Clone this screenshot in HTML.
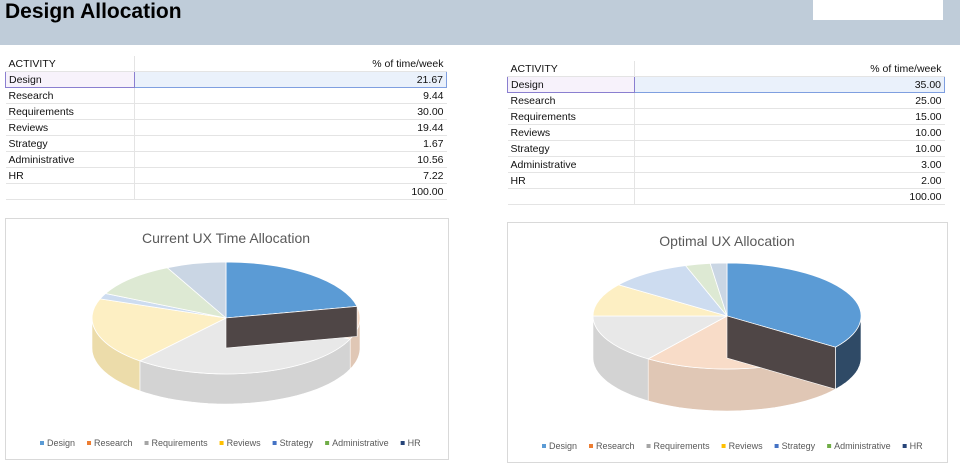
<!DOCTYPE html>
<html><head><meta charset="utf-8"><style>
body{margin:0;width:960px;height:475px;overflow:hidden;background:#fff;font-family:"Liberation Sans",sans-serif;position:relative}
.hdr{position:absolute;left:0;top:0;width:960px;height:45px;background:#bfccd9}
.hdr h1{margin:0;position:absolute;left:5px;top:0;font-size:21px;font-weight:bold;color:#000}
.wbox{position:absolute;left:813px;top:0;width:130px;height:20px;background:#fff}
table{position:absolute;border-collapse:collapse;font-size:10.5px;color:#111}
td{height:15px;padding:0 3px;border-bottom:1px solid #e4e4e4;white-space:nowrap}
td.n{text-align:right}
td.a{border-right:1px solid #e4e4e4}
tr.sel td.a{border:1px solid #8a7fd0;background:#f7f2fb}
tr.sel td.n{border:1px solid #7f9fe0;background:#eaf1fb}
.chart{position:absolute;border:1px solid #d9d9d9;background:#fff}
svg{position:absolute;left:0;top:0}
</style></head><body>
<div class="hdr"><h1>Design Allocation</h1></div>
<div class="wbox"></div>

<table style="left:5px;top:56px;width:442px">
<tr><td class="a" style="width:122px">ACTIVITY</td><td class="n">% of time/week</td></tr>
<tr class="sel"><td class="a">Design</td><td class="n">21.67</td></tr>
<tr><td class="a">Research</td><td class="n">9.44</td></tr>
<tr><td class="a">Requirements</td><td class="n">30.00</td></tr>
<tr><td class="a">Reviews</td><td class="n">19.44</td></tr>
<tr><td class="a">Strategy</td><td class="n">1.67</td></tr>
<tr><td class="a">Administrative</td><td class="n">10.56</td></tr>
<tr><td class="a">HR</td><td class="n">7.22</td></tr>
<tr><td class="a"></td><td class="n">100.00</td></tr>
</table>
<table style="left:507px;top:61px;width:438px">
<tr><td class="a" style="width:120px">ACTIVITY</td><td class="n">% of time/week</td></tr>
<tr class="sel"><td class="a">Design</td><td class="n">35.00</td></tr>
<tr><td class="a">Research</td><td class="n">25.00</td></tr>
<tr><td class="a">Requirements</td><td class="n">15.00</td></tr>
<tr><td class="a">Reviews</td><td class="n">10.00</td></tr>
<tr><td class="a">Strategy</td><td class="n">10.00</td></tr>
<tr><td class="a">Administrative</td><td class="n">3.00</td></tr>
<tr><td class="a">HR</td><td class="n">2.00</td></tr>
<tr><td class="a"></td><td class="n">100.00</td></tr>
</table>

<div class="chart" style="left:5px;top:218px;width:442px;height:240px"></div>
<div class="chart" style="left:507px;top:222px;width:439px;height:239px"></div>
<svg id="sv" width="960" height="475"></svg>

<script>
const categories=["Design","Research","Requirements","Reviews","Strategy","Administrative","HR"];
const currentValues=[21.67,9.44,30.00,19.44,1.67,10.56,7.22];
const optimalValues=[35,25,15,10,10,3,2];
const topColors=["#5b9bd5","#f8dcc8","#e8e8e8","#fdefc3","#cddcf0","#dde9d3","#cad6e4"];
const sideColors=["#2f4a66","#e0c7b5","#d3d3d3","#ecdcaa","#aebbd0","#c3d2b8","#aab6c6"];
const legendColors=["#5b9bd5","#ed7d31","#a5a5a5","#ffc000","#4472c4","#70ad47","#264478"];
const NS="http://www.w3.org/2000/svg";
const sv=document.getElementById('sv');
function mk(t,a){const e=document.createElementNS(NS,t);for(const k in a)e.setAttribute(k,a[k]);return e;}
function pie(vals,cx,cy,rx,ry,dep,title,ty,legX,legY,prefix){
  const tot=vals.reduce((a,b)=>a+b,0);
  const pt=(th,dy)=>[cx+rx*Math.sin(th),cy-ry*Math.cos(th)+(dy||0)];
  let a=0;const angs=vals.map(v=>{const s=a;a+=v/tot*2*Math.PI;return [s,a];});
  angs.forEach(([s,e],i)=>{
    const s2=Math.max(s,Math.PI/2),e2=Math.min(e,3*Math.PI/2);
    if(e2<=s2)return;
    let d="";const N=30;
    for(let k=0;k<=N;k++){const p=pt(s2+(e2-s2)*k/N);d+=(k?"L":"M")+p[0].toFixed(1)+","+p[1].toFixed(1);}
    for(let k=N;k>=0;k--){const p=pt(s2+(e2-s2)*k/N,dep);d+="L"+p[0].toFixed(1)+","+p[1].toFixed(1);}
    const p=mk('path',{d:d+"Z",fill:sideColors[i],stroke:"#fff","stroke-width":0.6});
    
    
    sv.appendChild(p);
  });
  angs.forEach(([s,e],i)=>{
    const p0=pt(s),p1=pt(e);const large=(e-s)>Math.PI?1:0;
    const d=`M${cx},${cy}L${p0[0].toFixed(1)},${p0[1].toFixed(1)}A${rx},${ry} 0 ${large} 1 ${p1[0].toFixed(1)},${p1[1].toFixed(1)}Z`;
    const p=mk('path',{d:d,fill:topColors[i],stroke:"#fff","stroke-width":0.8});
    
    
    sv.appendChild(p);
  });
  // dark inner wall at the end of the first (selected) slice
  const e0=angs[0][1],q=pt(e0),q2=pt(e0,dep);
  const w=mk('path',{d:`M${cx},${cy}L${q[0].toFixed(1)},${q[1].toFixed(1)}L${q2[0].toFixed(1)},${q2[1].toFixed(1)}L${cx},${cy+dep}Z`,fill:"#4f4646",stroke:"#fff","stroke-width":0.6});
  
  
  sv.appendChild(w);
  const t=mk('text',{x:cx,y:ty,"text-anchor":"middle","font-size":14,fill:"#595959","font-family":"Liberation Sans, sans-serif"});
  t.textContent=title;
  
  
  sv.appendChild(t);
  let x=legX;
  categories.forEach((c,i)=>{
    const r=mk('rect',{x:x,y:legY-5,width:4,height:4,fill:legendColors[i]});
    
    
    sv.appendChild(r);
    const tx=mk('text',{x:x+7,y:legY,"font-size":9,fill:"#595959","font-family":"Liberation Sans, sans-serif"});
    tx.textContent=c;
    
    
    sv.appendChild(tx);
    x+=7+tx.getComputedTextLength()+12;
  });
}
pie(currentValues,226,318,134,56,30,"Current UX Time Allocation",243,40,446,"current");
pie(optimalValues,727,316,134,53,42,"Optimal UX Allocation",246,542,449,"optimal");
</script>
</body></html>
